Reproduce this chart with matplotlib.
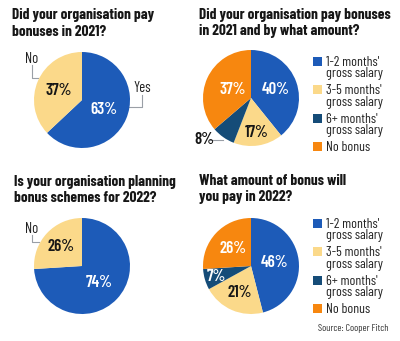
import numpy as np
import matplotlib
matplotlib.use("Agg")
import matplotlib.pyplot as plt
from matplotlib.patches import Rectangle
from matplotlib.lines import Line2D

plt.rcParams["font.family"] = ["Barlow Condensed", "Roboto Condensed", "DejaVu Sans"]

W, H = 400, 341

BLUE = "#1d5bb8"
YELLOW = "#fbd98a"
NAVY = "#154c78"
ORANGE = "#f7870f"
GREY = "#9a9fa6"
INK = "#161616"

# survey answers (percent)
paid_2021_labels = ["Yes", "No"]
paid_2021 = [63, 37]

amount_labels = [("1-2 months'", "gross salary"), ("3-5 months'", "gross salary"),
                 ("6+ months'", "gross salary"), ("No bonus",)]
amount_2021 = [40, 17, 8, 37]

planning_2022_labels = ["Yes", "No"]
planning_2022 = [74, 26]

amount_2022 = [46, 21, 7, 26]

fig = plt.figure(figsize=(W / 100, H / 100), dpi=100)
fig.patch.set_facecolor("white")

# overlay axes in pixel coordinates for titles, legends and leaders
ov = fig.add_axes([0, 0, 1, 1])
ov.set_xlim(0, W)
ov.set_ylim(H, 0)
ov.axis("off")


def pie_at(cx, cy, r, values, colors, dists, txt_colors, skip=()):
    ax = fig.add_axes([(cx - r) / W, 1 - (cy + r) / H, 2 * r / W, 2 * r / H])
    wedges, _ = ax.pie(values, colors=colors, startangle=90, counterclock=False,
                       radius=1, wedgeprops=dict(linewidth=0))
    ax.set_xlim(-1, 1)
    ax.set_ylim(-1, 1)
    ax.set_aspect("equal")
    for i, (w, v) in enumerate(zip(wedges, values)):
        if i in skip:
            continue
        mid = np.deg2rad((w.theta1 + w.theta2) / 2)
        d = dists[i]
        ax.text(d * np.cos(mid), d * np.sin(mid), f"{v}%", ha="center", va="center",
                fontsize=12, fontweight="semibold", color=txt_colors[i])
    return ax, wedges


def title(x, y, lines):
    for k, s in enumerate(lines):
        ov.text(x, y + k * 16.5, s, ha="left", va="baseline", fontsize=11,
                fontweight="bold", color=INK)


def legend(x, y0, step, labels, colors):
    for i, (lab, c) in enumerate(zip(labels, colors)):
        y = y0 + i * step
        ov.add_patch(Rectangle((x, y), 9, 9, color=c, lw=0))
        for k, s in enumerate(lab):
            ov.text(x + 13, y + 9 + k * 11.5, s, ha="left", va="baseline",
                    fontsize=10, color="#222222")


def leader(pts):
    xs, ys = zip(*pts)
    ov.add_line(Line2D(xs, ys, color=GREY, lw=0.8))


def tag(x, y, s, ha="center"):
    ov.text(x, y, s, ha=ha, va="baseline", fontsize=10.5, color="#222222")


# top left
title(12, 19, ["Did your organisation pay", "bonuses in 2021?"])
pie_at(82, 100, 48, paid_2021, [BLUE, YELLOW], [0.5, 0.52], ["white", INK])
tag(32, 63, paid_2021_labels[1])
leader([(32, 65), (32, 78), (38, 78)])
tag(133, 92, paid_2021_labels[0], ha="left")
leader([(142, 95), (142, 107), (128, 107)])

# top right
title(199, 19, ["Did your organisation pay bonuses", "in 2021 and by what amount?"])
pie_at(251, 98, 48, amount_2021, [BLUE, YELLOW, NAVY, ORANGE],
       [0.55, 0.72, 0.6, 0.42], ["white", INK, "white", "white"], skip=(2,))
ov.text(204, 140, f"{amount_2021[2]}%", ha="center", va="center", fontsize=12,
        fontweight="semibold", color=INK)
leader([(210, 140), (223, 140)])
legend(313, 57, 28.3, amount_labels, [BLUE, YELLOW, NAVY, ORANGE])

# bottom left
title(14, 186, ["Is your organisation planning", "bonus schemes for 2022?"])
pie_at(82, 266, 48, planning_2022, [BLUE, YELLOW], [0.49, 0.6], ["white", INK])
tag(32, 233, planning_2022_labels[1])
leader([(32, 235), (32, 242), (39, 242)])

# bottom right
title(199, 185, ["What amount of bonus will", "you pay in 2022?"])
pie_at(251, 266, 48, amount_2022, [BLUE, YELLOW, NAVY, ORANGE],
       [0.5, 0.61, 0.76, 0.52], ["white", INK, "white", "white"])
legend(313, 219, 28.3, amount_labels, [BLUE, YELLOW, NAVY, ORANGE])

ov.text(389, 331, "Source: Cooper Fitch", ha="right", va="baseline", fontsize=7.2,
        color="#333333")

fig.savefig("out.png", dpi=100, facecolor="white")
